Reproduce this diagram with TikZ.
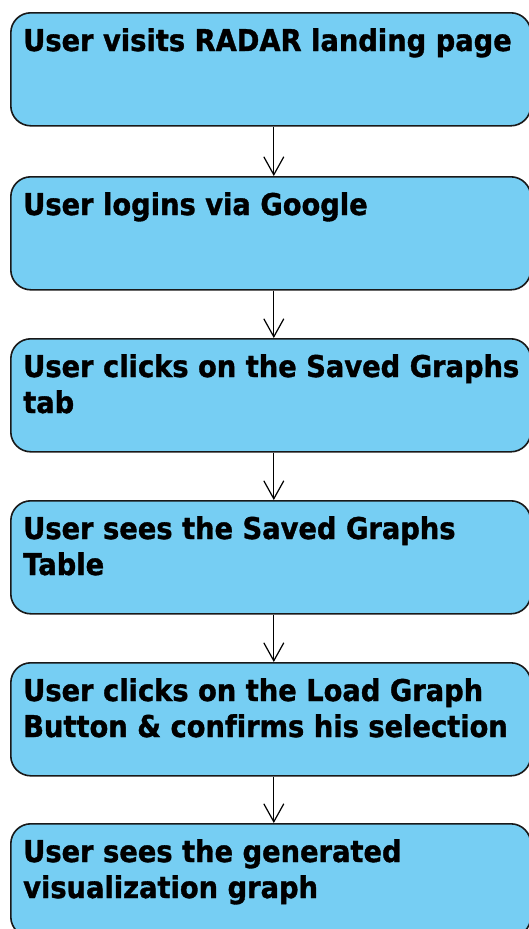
\documentclass[tikz,border=0pt]{standalone}
\usepackage{fontspec}
\setmainfont{DejaVu Sans}[FakeStretch=0.91, Ligatures=NoCommon, BoldFeatures={FakeBold=1.2}]
\usetikzlibrary{arrows.meta}
\definecolor{boxblue}{RGB}{118,206,243}
\definecolor{boxline}{RGB}{25,25,25}
\tikzset{
  stepbox/.style={draw=boxline, line width=1.6pt, fill=boxblue, rounded corners=20pt,
    minimum width=520pt, minimum height=113pt, anchor=north west, inner sep=0pt},
  steptext/.style={anchor=base west, inner sep=0pt, font=\bfseries\fontsize{30pt}{36pt}\selectfont},
  flow/.style={draw=black, line width=1.2pt, -{Straight Barb[length=18pt, width=20pt, line width=1.2pt]}}
}
\newcommand{\steplines}[1]{\parbox[t]{510pt}{\raggedright #1}}
\begin{document}
\begin{tikzpicture}[x=1pt, y=-1pt]
  \useasboundingbox (0,0) rectangle (529,929);
  % boxes
  \node[stepbox] (b1) at (10,12)  {};
  \node[stepbox] (b2) at (10,176) {};
  \node[stepbox] (b3) at (10,338) {};
  \node[stepbox] (b4) at (10,500) {};
  \node[stepbox] (b5) at (10,662) {};
  \node[stepbox] (b6) at (10,823) {};
  % texts, first baseline just below the top edge
  \node[steptext] (t1) at ([shift={(13pt,-39pt)}]b1.north west) {\steplines{User visits RADAR landing page}};
  \node[steptext] (t2) at ([shift={(13pt,-39pt)}]b2.north west) {\steplines{User logins via Google}};
  \node[steptext] (t3) at ([shift={(13pt,-39pt)}]b3.north west) {\steplines{User clicks on the Saved Graphs\\tab}};
  \node[steptext] (t4) at ([shift={(13pt,-39pt)}]b4.north west) {\steplines{User sees the Saved Graphs\\Table}};
  \node[steptext] (t5) at ([shift={(13pt,-39pt)}]b5.north west) {\steplines{User clicks on the Load Graph\\Button \& confirms his selection}};
  \node[steptext] (t6) at ([shift={(13pt,-39pt)}]b6.north west) {\steplines{User sees the generated\\visualization graph}};
  % connectors
  \foreach \a/\b in {b1/b2, b2/b3, b3/b4, b4/b5, b5/b6}
    \draw[flow] ([xshift=3pt]\a.south) -- ([xshift=3pt]\b.north);
\end{tikzpicture}
\end{document}
